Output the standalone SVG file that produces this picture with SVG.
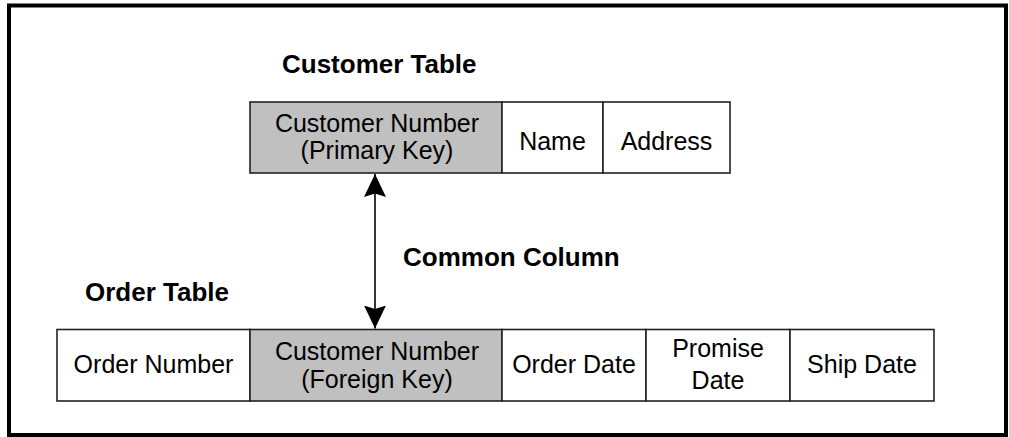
<svg xmlns="http://www.w3.org/2000/svg" width="1009" height="437" viewBox="0 0 1009 437">
  <style>
    .frame { fill: #ffffff; stroke: #000000; stroke-width: 4; }
    .cell { fill: #ffffff; stroke: #222222; stroke-width: 1.6; }
    .key { fill: #c0c0c0; stroke: #222222; stroke-width: 1.6; }
    .t { font-family: "Liberation Sans", Arial, Helvetica, sans-serif; font-size: 25px; fill: #000000; text-anchor: middle; }
    .title { font-family: "Liberation Sans", Arial, Helvetica, sans-serif; font-size: 26px; font-weight: bold; fill: #000000; }
    .conn { fill: none; stroke: #000000; stroke-width: 1.6; }
  </style>
  <defs>
    <marker id="arrow" markerUnits="userSpaceOnUse" viewBox="0 0 23 22" markerWidth="23" markerHeight="22" refX="23" refY="11" orient="auto-start-reverse">
      <path d="M0,0 L23,11 L0,22 L3.5,11 Z" fill="#000000"/>
    </marker>
  </defs>

  <rect class="frame" x="9" y="5.5" width="997" height="429.5"/>

  <g id="customer-table-title">
    <text class="title" x="282" y="73">Customer Table</text>
  </g>
  <g id="order-table-title">
    <text class="title" x="85" y="301">Order Table</text>
  </g>
  <g id="common-column-label">
    <text class="title" x="403" y="266">Common Column</text>
  </g>

  <g id="customer-number-pk">
    <rect class="key" x="250" y="102" width="252" height="71"/>
    <text class="t" x="377" y="132">Customer Number</text>
    <text class="t" x="377" y="159">(Primary Key)</text>
  </g>
  <g id="customer-name">
    <rect class="cell" x="502" y="102" width="101" height="71"/>
    <text class="t" x="552.5" y="150">Name</text>
  </g>
  <g id="customer-address">
    <rect class="cell" x="603" y="102" width="127" height="71"/>
    <text class="t" x="666.5" y="150">Address</text>
  </g>

  <g id="order-number">
    <rect class="cell" x="57" y="329.5" width="193" height="71.5"/>
    <text class="t" x="153.5" y="373">Order Number</text>
  </g>
  <g id="customer-number-fk">
    <rect class="key" x="250" y="329.5" width="252" height="71.5"/>
    <text class="t" x="377" y="360">Customer Number</text>
    <text class="t" x="377" y="388">(Foreign Key)</text>
  </g>
  <g id="order-date">
    <rect class="cell" x="502" y="329.5" width="144" height="71.5"/>
    <text class="t" x="574" y="373">Order Date</text>
  </g>
  <g id="promise-date">
    <rect class="cell" x="646" y="329.5" width="144" height="71.5"/>
    <text class="t" x="718" y="357">Promise</text>
    <text class="t" x="718" y="389">Date</text>
  </g>
  <g id="ship-date">
    <rect class="cell" x="790" y="329.5" width="144" height="71.5"/>
    <text class="t" x="862" y="373">Ship Date</text>
  </g>

  <g id="connectors">
    <path class="conn" d="M375,174 L375,328.5" marker-start="url(#arrow)" marker-end="url(#arrow)"/>
  </g>
</svg>
